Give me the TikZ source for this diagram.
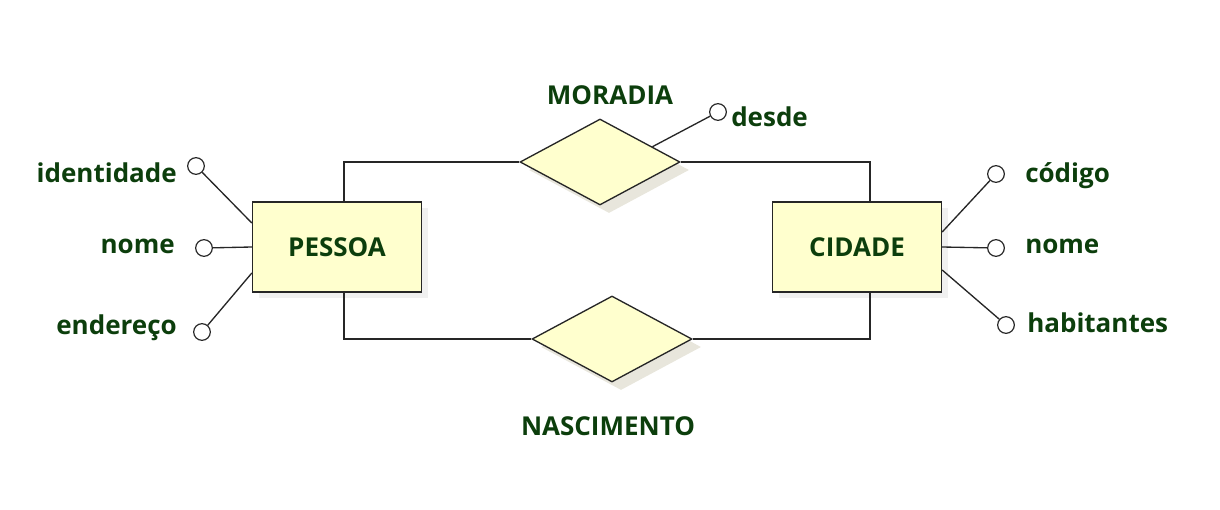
\documentclass[tikz,border=0pt]{standalone}
\usepackage{fontspec}
\setmainfont{Open Sans}
\usetikzlibrary{shapes.geometric,calc}
\definecolor{txtgreen}{RGB}{12,62,12}
\definecolor{boxfill}{RGB}{255,255,206}
\definecolor{shadowc}{RGB}{232,230,220}
\tikzset{
  lbl/.style={text=txtgreen,font=\bfseries\fontsize{19.5}{22}\selectfont,inner sep=0pt},
  entity/.style={draw=black!85,line width=1pt,fill=boxfill,minimum width=126.75pt,minimum height=67.5pt,inner sep=0pt},
  relation/.style={diamond,draw=black!85,line width=1pt,fill=boxfill,minimum width=120pt,minimum height=64.5pt,inner sep=0pt},
  eshadow/.style={fill=shadowc,draw=none,diamond,minimum width=120pt,minimum height=64.5pt,inner sep=0pt},
  bshadow/.style={fill=black!6,draw=none,minimum width=126.75pt,minimum height=67.5pt,inner sep=0pt},
  attr/.style={circle,draw=black!85,line width=0.9pt,fill=white,minimum size=12.5pt,inner sep=0pt},
  link/.style={draw=black!85,line width=1pt}
}
\begin{document}
\begin{tikzpicture}[x=0.75pt,y=-0.75pt]
\useasboundingbox (0,0) rectangle (1220,510);
% shadows
\node[bshadow] at (343,253) {};
\node[bshadow] at (863,253) {};
\node[eshadow] at (609,170) {};
\node[eshadow] at (621,347) {};
% entities
\node[entity] (pessoa) at (337,247) {};
\node[lbl] at (337,247) {PESSOA};
\node[entity] (cidade) at (857,247) {};
\node[lbl] at (857,247) {CIDADE};
% relationships
\node[relation] (moradia) at (600,162) {};
\node[relation] (nasc) at (612,339) {};
\node[lbl,anchor=base] (moradiaL) at (610,104) {MORADIA};
\node[lbl,anchor=base] (nascL) at (608,435) {NASCIMENTO};
% relationship connectors
\draw[link] ([xshift=69pt]pessoa.north west) |- (moradia.west);
\draw[link] (moradia.east) -| ([xshift=73.5pt]cidade.north west);
\draw[link] ([xshift=69pt]pessoa.south west) |- (nasc.west);
\draw[link] (nasc.east) -| ([xshift=73.5pt]cidade.south west);
% desde
\node[attr] (desde) at (718,112) {};
\node[lbl,anchor=base west] (desdeL) at (731,126) {desde};
\draw[link] ($(moradia.north)!0.65!(moradia.east)$) -- (desde);
% PESSOA attributes
\node[attr] (identidade) at (196,166) {};
\node[attr] (nome1) at (204,248) {};
\node[attr] (endereco) at (202,332) {};
\node[lbl,anchor=base east] (identidadeL) at (177,182) {identidade};
\node[lbl,anchor=base east] (nome1L) at (175,253) {nome};
\node[lbl,anchor=base east] (enderecoL) at (177,334) {endereço};
\draw[link] (identidade) -- ([yshift=18pt]pessoa.west);
\draw[link] (nome1) -- (pessoa.west);
\draw[link] (endereco) -- ([yshift=-19.5pt]pessoa.west);
% CIDADE attributes
\node[attr] (codigo) at (996,174) {};
\node[attr] (nome2) at (996,248) {};
\node[attr] (habitantes) at (1006,325) {};
\node[lbl,anchor=base west] (codigoL) at (1025,182) {código};
\node[lbl,anchor=base west] (nome2L) at (1025,253) {nome};
\node[lbl,anchor=base west] (habitantesL) at (1027,332) {habitantes};
\draw[link] (codigo) -- ([yshift=11.25pt]cidade.east);
\draw[link] (nome2) -- (cidade.east);
\draw[link] (habitantes) -- ([yshift=-17.25pt]cidade.east);
\end{tikzpicture}
\end{document}
